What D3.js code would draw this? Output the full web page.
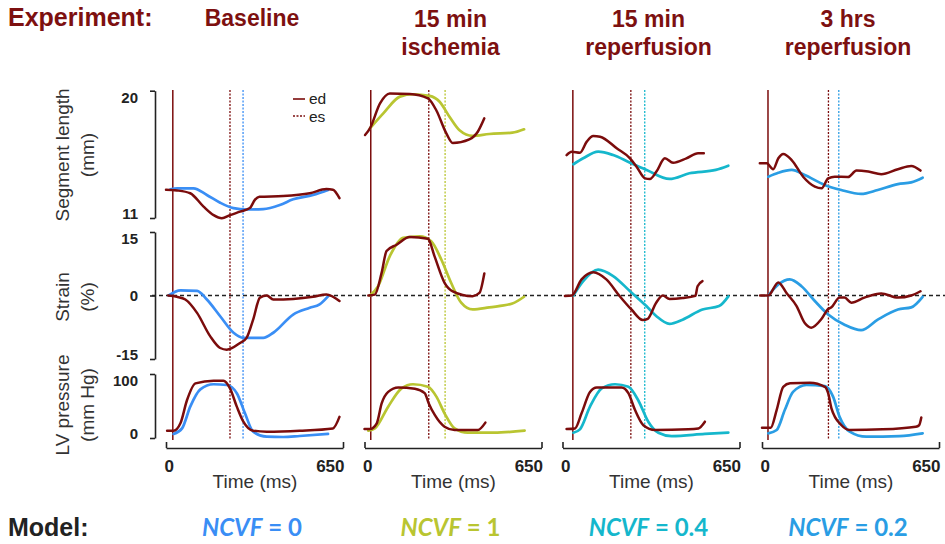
<!DOCTYPE html>
<html><head><meta charset="utf-8">
<script src="https://cdn.jsdelivr.net/npm/d3@7"></script>
<style>body{margin:0;background:#fff}svg{display:block}</style>
</head><body><svg id="c" width="945" height="544"></svg>
<script>
// ---------- DATA ----------
const timeDomain = [0, 650];
const timeTicks = [0, 650];
const segTicks = [11, 20];
const strainTicks = [-15, 0, 15];
const pressureTicks = [0, 100];
const experiments = [["Baseline"], ["15 min", "ischemia"], ["15 min", "reperfusion"], ["3 hrs", "reperfusion"]];
const ncvfValues = ["0", "1", "0.4", "0.2"];
const edTimes = [25, 23, 38, 22];
const esExpTimes = [235, 236, 251, 244];
const esModelTimes = [283, 296, 302, 282];

// Segment length (mm): [time ms, value]
const seg_exp_1 = [[0,13.0],[40,12.95],[89,12.75],[138,11.8],[175,11.2],[205,10.98],[235,11.2],[272,11.45],[308,11.7],[327,12.3],[343,12.5],[430,12.55],[528,12.75],[589,13.05],[613,13.0],[637,12.4]];
const seg_mod_1 = [[16,13.03],[41,13.1],[101,13.1],[150,12.63],[199,12.08],[248,11.7],[296,11.6],[357,11.63],[418,11.92],[467,12.32],[540,12.63],[595,12.98]];
const seg_exp_2 = [[2,16.87],[20,17.34],[57,19.1],[93,19.8],[166,19.77],[233,19.46],[264,18.6],[300,17.0],[324,16.3],[385,16.56],[416,17.1],[440,18.05]];
const seg_mod_2 = [[20,17.34],[69,18.4],[130,19.58],[178,19.75],[239,19.63],[276,19.22],[312,18.16],[349,17.2],[397,16.8],[458,16.94],[543,17.03],[586,17.27]];
const seg_exp_3 = [[15,15.45],[34,15.69],[64,15.62],[89,16.4],[113,16.8],[138,16.75],[199,15.93],[248,15.22],[272,14.63],[303,13.8],[321,13.75],[345,14.28],[376,15.22],[406,14.9],[455,15.22],[498,15.58],[519,15.58]];
const seg_mod_3 = [[40,14.8],[76,15.22],[131,15.69],[186,15.45],[248,14.91],[309,14.4],[393,13.76],[466,14.16],[563,14.4],[609,14.7]];
const seg_exp_4 = [[-8,14.87],[17,14.87],[41,14.45],[60,15.22],[78,15.53],[109,15.1],[151,13.92],[194,13.22],[219,13.1],[243,13.8],[267,13.92],[316,13.9],[347,14.35],[390,14.28],[438,14.1],[499,14.45],[548,14.68],[582,14.35]];
const seg_mod_4 = [[23,13.92],[60,14.2],[109,14.4],[157,14.04],[230,13.34],[291,12.98],[364,12.7],[425,12.98],[499,13.4],[548,13.52],[590,13.85]];

// Strain (%)
const str_exp_1 = [[8,0],[40,-0.3],[71,-0.95],[114,-4.1],[162,-9.6],[199,-12.4],[223,-12.8],[272,-11.2],[296,-10],[320,-5.7],[345,-0.5],[370,0],[394,-0.95],[467,-0.8],[540,-0.3],[589,0.24],[637,-1.3]];
const str_mod_1 = [[10,0],[53,1.2],[114,1.1],[150,-0.95],[199,-4.9],[248,-8.8],[284,-10],[357,-10],[394,-8.8],[467,-4.5],[528,-2.9],[564,-2.1],[595,-0.2]];
const str_exp_2 = [[14,0],[38,0.2],[63,5.4],[81,10.5],[118,12],[166,13.8],[233,13.4],[257,9.3],[294,3],[324,1],[397,-0.15],[422,0.6],[440,5.2]];
const str_mod_2 = [[20,0],[50,2.2],[93,9.3],[142,13.6],[203,14],[245,12.8],[282,8.5],[318,3],[355,-1.7],[397,-3.3],[458,-2.8],[543,-1.9],[586,-0.3]];
const str_exp_3 = [[9,-0.1],[34,0],[70,3.8],[113,5.5],[161,3.8],[210,-0.15],[253,-3.3],[295,-5.8],[313,-5.5],[344,-1.7],[368,0],[393,-0.8],[441,-0.6],[488,-0.1],[496,2.2],[514,3.4]];
const str_mod_3 = [[40,0],[76,3.4],[131,6.1],[186,4.6],[248,1],[308,-2.5],[345,-4.9],[393,-6.7],[441,-5.7],[514,-3.3],[575,-2.5],[609,-0.2]];
const str_exp_4 = [[-7,0],[23,0],[60,3.1],[90,0.6],[127,-2.5],[157,-6.5],[181,-7.6],[219,-5.5],[243,-3.2],[255,-2.8],[285,-0.5],[303,-0.5],[328,-1.7],[376,-0.5],[438,0.5],[499,-0.5],[548,0],[582,1]];
const str_mod_4 = [[23,0],[60,2.6],[102,3.8],[145,2.2],[194,-1.3],[243,-4.5],[303,-6.9],[364,-8.2],[425,-5.7],[499,-3.3],[548,-2.8],[590,-0.3]];

// LV pressure (mm Hg)
const pres_exp_1 = [[4,11.4],[28,11.4],[53,23],[77,59],[108,85.4],[175,89.5],[211,89.5],[235,77.6],[260,49],[284,25.5],[320,11.4],[370,9.9],[491,11.4],[613,15],[637,33]];
const pres_mod_1 = [[28,6.3],[59,15],[89,49],[126,76],[175,84],[223,82.8],[260,70],[290,38.6],[320,9.9],[370,2],[430,1.6],[491,3.1],[595,6.3]];
const pres_exp_2 = [[0,14],[20,14],[45,23],[63,54],[87,72],[124,79],[185,77],[221,70],[236,54],[258,36],[294,17.7],[331,12.5],[416,12.5],[444,24]];
const pres_mod_2 = [[14,11.4],[38,15],[87,49],[136,77.6],[178,84],[233,80],[264,64.6],[294,38.6],[331,15],[379,8.3],[476,8.3],[588,11.4]];
const pres_exp_3 = [[15,14],[46,15],[70,38.6],[101,72],[126,79],[217,79],[242,70],[266,44],[297,20],[340,12.5],[462,13.5],[499,15],[523,25.5]];
const pres_mod_3 = [[40,8.3],[64,13.5],[101,49],[144,77.6],[193,84],[242,80],[278,59],[315,25.5],[352,8.3],[401,3],[523,6.3],[609,8.3]];
const pres_exp_4 = [[0,16],[32,16],[54,44],[78,80],[103,85.4],[176,86.5],[231,80],[243,70],[255,46.4],[291,20.3],[322,12.5],[443,13.5],[565,17.7],[577,20],[585,32]];
const pres_mod_4 = [[23,7.3],[54,12.5],[84,44],[114,72],[163,82.8],[231,81],[261,64.6],[285,33],[322,9.9],[383,2],[505,3],[590,7.3]];

const segExp = [seg_exp_1, seg_exp_2, seg_exp_3, seg_exp_4];
const segMod = [seg_mod_1, seg_mod_2, seg_mod_3, seg_mod_4];
const strExp = [str_exp_1, str_exp_2, str_exp_3, str_exp_4];
const strMod = [str_mod_1, str_mod_2, str_mod_3, str_mod_4];
const presExp = [pres_exp_1, pres_exp_2, pres_exp_3, pres_exp_4];
const presMod = [pres_mod_1, pres_mod_2, pres_mod_3, pres_mod_4];

// ---------- STYLE / LAYOUT ----------
const FONT = "'Liberation Sans', Arial, Helvetica, sans-serif";
const RED = "#7b0c0c";
const TITLE_RED = "#7d1010";
const MODEL_COLORS = ["#3a8ef5", "#b9c531", "#15b7cc", "#2a9de4"];
const PX = [166, 364.5, 562.5, 762], PW = 177;
const AXIS_X = 155;

const svg = d3.select("#c");
const ySeg = d3.scaleLinear().domain([11, 20]).range([218, 90.7]);
const yStr = d3.scaleLinear().domain([-15, 15]).range([359, 232]);
const yPres = d3.scaleLinear().domain([0, 100]).range([438, 374]);

// zero strain line
svg.append("line").attr("x1", 152).attr("x2", 945)
  .attr("y1", yStr(0)).attr("y2", yStr(0))
  .attr("stroke", "#222").attr("stroke-width", 1.5).attr("stroke-dasharray", "4,3");

// Titles
svg.append("text").attr("x", 8).attr("y", 26).text("Experiment:")
  .attr("font-family", FONT).attr("font-weight", "bold").attr("font-size", 25).attr("fill", TITLE_RED);
svg.append("text").attr("x", 8).attr("y", 536).text("Model:")
  .attr("font-family", FONT).attr("font-weight", "bold").attr("font-size", 25).attr("fill", "#222");

experiments.forEach((lines, i) => {
  const cx = PX[i] + 86;
  lines.forEach((ln, j) => {
    svg.append("text").attr("x", cx).attr("y", (lines.length === 1 ? 26 : 27) + j * 28)
      .attr("text-anchor", "middle").text(ln)
      .attr("font-family", FONT).attr("font-weight", "bold").attr("font-size", 23).attr("fill", TITLE_RED);
  });
  const t = svg.append("text").attr("x", cx).attr("y", 536).attr("text-anchor", "middle")
    .attr("font-family", "Lato, 'Open Sans', sans-serif").attr("font-weight", "bold")
    .attr("font-size", 24).attr("fill", MODEL_COLORS[i]);
  t.append("tspan").attr("font-style", "italic").text("NCVF");
  t.append("tspan").text(" = " + ncvfValues[i]);
});

const line = (x, y) => d3.line().x(d => x(d[0])).y(d => y(d[1])).curve(d3.curveMonotoneX);

PX.forEach((x0, i) => {
  const x = d3.scaleLinear().domain(timeDomain).range([x0, x0 + PW]);
  const g = svg.append("g");
  // event lines
  g.append("line").attr("x1", x(edTimes[i])).attr("x2", x(edTimes[i])).attr("y1", 90).attr("y2", 440)
    .attr("stroke", RED).attr("stroke-width", 1.5);
  g.append("line").attr("x1", x(esExpTimes[i])).attr("x2", x(esExpTimes[i])).attr("y1", 90).attr("y2", 440)
    .attr("stroke", RED).attr("stroke-width", 1.3).attr("stroke-dasharray", "2,1.5");
  g.append("line").attr("x1", x(esModelTimes[i])).attr("x2", x(esModelTimes[i])).attr("y1", 90).attr("y2", 440)
    .attr("stroke", MODEL_COLORS[i]).attr("stroke-width", 1.3).attr("stroke-dasharray", "2,1.5");
  // curves
  [[segMod[i], segExp[i], ySeg], [strMod[i], strExp[i], yStr], [presMod[i], presExp[i], yPres]].forEach(([m, e, y]) => {
    g.append("path").attr("d", line(x, y)(m)).attr("fill", "none")
      .attr("stroke", MODEL_COLORS[i]).attr("stroke-width", 2.7).attr("stroke-linecap", "round");
    g.append("path").attr("d", line(x, y)(e)).attr("fill", "none")
      .attr("stroke", RED).attr("stroke-width", 2.5).attr("stroke-linecap", "round");
  });
  // time axis
  const ax = g.append("g").attr("transform", "translate(0,448)")
    .call(d3.axisBottom(x).tickValues(timeTicks).tickSize(-6).tickSizeOuter(0).tickPadding(12));
  ax.select(".domain").attr("stroke", "#222").attr("stroke-width", 1.6);
  ax.selectAll(".tick line").attr("stroke", "#222").attr("stroke-width", 1.6);
  ax.selectAll(".tick text").attr("font-family", FONT).attr("font-weight", "bold").attr("font-size", 17)
    .attr("fill", "#222")
    .attr("text-anchor", (d, k) => k === 0 ? "start" : "end")
    .attr("dx", (d, k) => k === 0 ? -2 : 1);
  g.append("text").attr("x", x0 + 89).attr("y", 488).attr("text-anchor", "middle").text("Time (ms)")
    .attr("font-family", FONT).attr("font-size", 19).attr("fill", "#333");
});

// Y axes
[[ySeg, segTicks], [yStr, strainTicks], [yPres, pressureTicks]].forEach(([y, ticks]) => {
  const ax = svg.append("g").attr("transform", `translate(${AXIS_X},0)`)
    .call(d3.axisLeft(y).tickValues(ticks).tickSize(5).tickSizeOuter(0).tickPadding(12).tickFormat(d => String(d)));
  ax.select(".domain").attr("stroke", "#222").attr("stroke-width", 1.6);
  ax.selectAll(".tick line").attr("stroke", "#222").attr("stroke-width", 1.6);
  const lo = d3.min(ticks), hi = d3.max(ticks);
  ax.selectAll(".tick text").attr("font-family", FONT).attr("font-weight", "bold").attr("font-size", 15)
    .attr("fill", "#222")
    .attr("dy", d => d === hi ? "0.78em" : (d === lo ? "0.05em" : "0.36em"));
});

// Y axis titles
const yTitles = [[["Segment length", "(mm)"], 155], [["Strain", "(%)"], 297], [["LV pressure", "(mm Hg)"], 405]];
yTitles.forEach(([lines, cy]) => {
  lines.forEach((ln, j) => {
    svg.append("text").attr("transform", `translate(${68.5 + j * 25},${cy}) rotate(-90)`)
      .attr("text-anchor", "middle").text(ln)
      .attr("font-family", FONT).attr("font-size", 19).attr("fill", "#333");
  });
});

// Legend
svg.append("line").attr("x1", 293).attr("x2", 305).attr("y1", 99).attr("y2", 99)
  .attr("stroke", RED).attr("stroke-width", 1.6);
svg.append("line").attr("x1", 293).attr("x2", 305).attr("y1", 116).attr("y2", 116)
  .attr("stroke", RED).attr("stroke-width", 1.4).attr("stroke-dasharray", "2,1.5");
svg.append("text").attr("x", 309).attr("y", 104).text("ed")
  .attr("font-family", FONT).attr("font-size", 15.5).attr("fill", "#222");
svg.append("text").attr("x", 309).attr("y", 121.5).text("es")
  .attr("font-family", FONT).attr("font-size", 15.5).attr("fill", "#222");
</script></body></html>
